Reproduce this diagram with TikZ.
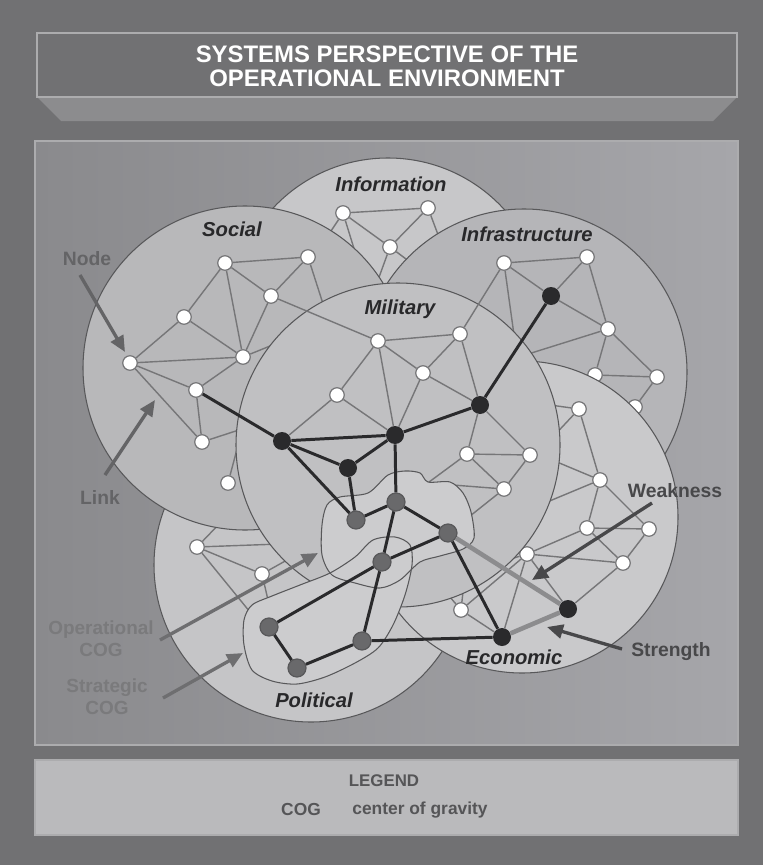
\documentclass[tikz,border=0pt]{standalone}
\usepackage{fontspec}
\setmainfont{Liberation Sans}
\usetikzlibrary{arrows.meta}

\definecolor{bgdark}{RGB}{113,113,115}
\definecolor{trapfill}{RGB}{140,140,142}
\definecolor{frameline}{RGB}{172,172,174}
\definecolor{paneldark}{RGB}{138,138,141}
\definecolor{panellight}{RGB}{166,166,170}
\definecolor{legendfill}{RGB}{186,186,188}
\definecolor{infofill}{RGB}{199,199,201}
\definecolor{socialfill}{RGB}{184,184,186}
\definecolor{infrafill}{RGB}{181,181,184}
\definecolor{polfill}{RGB}{197,197,199}
\definecolor{econfill}{RGB}{201,201,203}
\definecolor{milfill}{RGB}{192,192,194}
\definecolor{blobfill}{RGB}{204,204,206}
\definecolor{rimgray}{RGB}{88,88,90}
\definecolor{linkgray}{RGB}{118,118,120}
\definecolor{nodeblack}{RGB}{42,42,44}
\definecolor{cognode}{RGB}{105,105,107}
\definecolor{lightlinkgray}{RGB}{140,140,142}
\definecolor{labeldark}{RGB}{40,40,42}
\definecolor{notegray}{RGB}{100,100,102}
\definecolor{coggray}{RGB}{122,122,124}
\definecolor{weakgray}{RGB}{72,72,74}
\definecolor{legendtext}{RGB}{85,85,87}

\begin{document}
\begin{tikzpicture}[x=0.02cm, y=-0.02cm,
    sphere/.style={draw=rimgray, line width=0.6pt},
    wnode/.style={circle, draw=linkgray, fill=white, line width=0.7pt, inner sep=0pt, minimum size=0.29cm},
    bnode/.style={circle, fill=nodeblack, inner sep=0pt, minimum size=0.36cm},
    gnode/.style={circle, draw=rimgray, fill=cognode, line width=0.7pt, inner sep=0pt, minimum size=0.36cm},
    graylink/.style={draw=linkgray, line width=0.8pt},
    blacklink/.style={draw=nodeblack, line width=1.7pt},
    lightlink/.style={draw=lightlinkgray, line width=2.6pt},
    blob/.style={draw=rimgray, fill=blobfill, line width=0.6pt},
    dlabel/.style={font=\fontsize{11.5}{12}\selectfont\bfseries\itshape, text=labeldark, inner sep=0pt},
    note/.style={font=\fontsize{11}{12.5}\selectfont\bfseries, align=center, inner sep=0pt},
    pointer/.style={line width=1.9pt, -{Triangle[length=0.32cm,width=0.28cm]}}
]
\fill[bgdark] (0,0) rectangle (763,865);
\useasboundingbox (0,0) rectangle (763,865);

% title
\fill[trapfill] (37,97) -- (737,97) -- (713,121) -- (61,121) -- cycle;
\draw[frameline, fill=bgdark, line width=0.6pt] (37,33) rectangle (737,97);
\node[text=white, font=\fontsize{13.6}{13.6}\selectfont\bfseries, align=center, inner sep=0pt] (title) at (387,66) {SYSTEMS PERSPECTIVE OF THE\\OPERATIONAL ENVIRONMENT};

% panels
\draw[frameline, line width=0.6pt, left color=paneldark, right color=panellight] (35,141) rectangle (738,745);
\draw[frameline, line width=0.6pt, fill=legendfill] (35,760) rectangle (738,835);

% Information
\filldraw[sphere, fill=infofill] (388,315) circle[radius=157];
\node[wnode] (i1) at (343,213) {};
\node[wnode] (i2) at (390,247) {};
\node[wnode] (i3) at (428,208) {};
\coordinate (i1a) at (325,240);
\coordinate (i1b) at (356,255);
\coordinate (i2a) at (378,280);
\coordinate (i2b) at (410,262);
\coordinate (i3a) at (440,240);
\draw[graylink] (i1) -- (i3) (i1) -- (i2) (i2) -- (i3) (i1) -- (i1a) (i1) -- (i1b)
    (i2) -- (i2a) (i2) -- (i2b) (i3) -- (i3a);

% Political
\filldraw[sphere, fill=polfill] (311,565) circle[radius=157];
\node[wnode] (p1) at (197,547) {};
\node[wnode] (p2) at (262,574) {};
\coordinate (p1a) at (223,520);
\coordinate (p1b) at (280,544);
\coordinate (p1c) at (250,612);
\coordinate (p2a) at (287,560);
\coordinate (p2b) at (268,600);
\draw[graylink] (p1) -- (p2) (p1) -- (p1a) (p1) -- (p1b) (p1) -- (p1c) (p2) -- (p2a) (p2) -- (p2b);

% Social
\filldraw[sphere, fill=socialfill] (245,368) circle[radius=162];
\node[wnode] (s1) at (225,263) {};
\node[wnode] (s2) at (308,257) {};
\node[wnode] (s3) at (271,296) {};
\node[wnode] (s4) at (184,317) {};
\node[wnode] (s5) at (130,363) {};
\node[wnode] (s6) at (243,357) {};
\node[wnode] (s7) at (196,390) {};
\node[wnode] (s8) at (202,442) {};
\node[wnode] (s9) at (228,483) {};
\coordinate (s2a) at (325,310);
\coordinate (s6a) at (275,344);
\coordinate (s8a) at (245,428);
\coordinate (s9a) at (240,438);
\draw[graylink] (s1) -- (s2) (s1) -- (s3) (s1) -- (s4) (s1) -- (s6) (s2) -- (s3) (s2) -- (s2a)
    (s3) -- (s6) (s4) -- (s5) (s4) -- (s6) (s5) -- (s6) (s5) -- (s7) (s5) -- (s8)
    (s6) -- (s7) (s6) -- (s6a) (s7) -- (s8) (s8) -- (s8a) (s9) -- (s9a);

% Infrastructure
\filldraw[sphere, fill=infrafill] (524,372) circle[radius=163];
\node[wnode] (f1) at (504,263) {};
\node[wnode] (f2) at (587,257) {};
\node[bnode] (f3) at (551,296) {};
\node[wnode] (f4) at (608,329) {};
\node[wnode] (f5) at (595,375) {};
\node[wnode] (f6) at (657,377) {};
\node[wnode] (f7) at (635,407) {};
\coordinate (f1a) at (515,342);
\coordinate (f4a) at (525,355);
\draw[graylink] (f1) -- (f2) (f1) -- (f3) (f2) -- (f3) (f3) -- (f4) (f2) -- (f4) (f4) -- (f5)
    (f4) -- (f6) (f5) -- (f6) (f6) -- (f7) (f1) -- (f1a) (f4) -- (f4a);

% Economic
\filldraw[sphere, fill=econfill] (522,517) circle[radius=156];
\node[wnode] (e1) at (579,409) {};
\node[wnode] (e2) at (600,480) {};
\node[wnode] (e3) at (587,528) {};
\node[wnode] (e4) at (649,529) {};
\node[wnode] (e5) at (527,554) {};
\node[wnode] (e6) at (623,563) {};
\node[wnode] (e7) at (461,610) {};
\node[bnode] (eb1) at (502,637) {};
\node[bnode] (eb2) at (568,609) {};
\coordinate (e1a) at (550,405);
\coordinate (e1b) at (550,440);
\coordinate (e2a) at (545,457);
\coordinate (e2b) at (540,505);
\coordinate (e5a) at (468,572);
\coordinate (e7a) at (464,583);
\coordinate (e7b) at (444,590);
\draw[graylink] (e1) -- (e2) (e2) -- (e3) (e2) -- (e4) (e3) -- (e4) (e3) -- (e5) (e3) -- (e6)
    (e4) -- (e6) (e5) -- (e6) (e5) -- (e7) (e5) -- (eb1) (e5) -- (eb2) (e6) -- (eb2)
    (e7) -- (eb1) (e1) -- (e1a) (e1) -- (e1b) (e2) -- (e2a) (e2) -- (e2b) (e5) -- (e5a)
    (e7) -- (e7a) (e7) -- (e7b);

% Military
\filldraw[sphere, fill=milfill] (398,445) circle[radius=162];
\node[wnode] (m1) at (378,341) {};
\node[wnode] (m2) at (337,395) {};
\node[wnode] (m3) at (460,334) {};
\node[wnode] (m4) at (423,373) {};
\node[wnode] (m5) at (467,454) {};
\node[wnode] (m6) at (530,455) {};
\node[wnode] (m7) at (504,489) {};
\node[bnode] (b1) at (282,441) {};
\node[bnode] (b2) at (395,435) {};
\node[bnode] (b3) at (480,405) {};
\node[bnode] (b4) at (348,468) {};
\coordinate (m5a) at (425,485);
\coordinate (m7a) at (440,484);
\coordinate (m7b) at (465,520);
\draw[graylink] (m1) -- (m3) (m1) -- (m4) (m1) -- (m2) (m1) -- (b2) (m3) -- (m4) (m3) -- (b3)
    (m4) -- (b3) (m4) -- (b2) (m2) -- (b1) (m2) -- (b2) (b3) -- (m5) (b3) -- (m6)
    (m5) -- (m6) (m5) -- (m7) (m6) -- (m7) (m5) -- (m5a) (m7) -- (m7a) (m7) -- (m7b)
    (s3) -- (m1) (f1) -- (m3);

% centres of gravity
\fill[blobfill] plot[smooth cycle] coordinates {(327,505) (340,497) (368,493) (388,475) (405,471)
    (420,473) (428,482) (450,482) (463,493) (471,512) (474,538) (463,549) (440,556) (420,562)
    (400,580) (380,588) (355,583) (332,575) (322,555) (322,525)};
\fill[blobfill] plot[smooth cycle] coordinates {(373,540) (395,537) (410,545) (412,565) (405,595)
    (393,625) (378,648) (355,663) (325,677) (297,684) (272,681) (252,670) (244,645) (244,620)
    (252,605) (272,596) (300,585) (330,573) (355,557)};
\draw[rimgray, line width=0.6pt] plot[smooth cycle] coordinates {(327,505) (340,497) (368,493)
    (388,475) (405,471) (420,473) (428,482) (450,482) (463,493) (471,512) (474,538) (463,549)
    (440,556) (420,562) (400,580) (380,588) (355,583) (332,575) (322,555) (322,525)};
\draw[rimgray, line width=0.6pt] plot[smooth cycle] coordinates {(373,540) (395,537) (410,545)
    (412,565) (405,595) (393,625) (378,648) (355,663) (325,677) (297,684) (272,681) (252,670)
    (244,645) (244,620) (252,605) (272,596) (300,585) (330,573) (355,557)};
\node[gnode] (g1) at (356,520) {};
\node[gnode] (g2) at (396,502) {};
\node[gnode] (g3) at (448,533) {};
\node[gnode] (g4) at (382,562) {};
\node[gnode] (g5) at (362,641) {};
\node[gnode] (g6) at (269,627) {};
\node[gnode] (g7) at (297,668) {};

% key links
\draw[lightlink] (g3) -- (eb2) (eb1) -- (eb2);
\draw[blacklink] (s7) -- (b1) (b1) -- (b2) (b1) -- (b4) (b2) -- (b4) (b2) -- (b3) (b3) -- (f3)
    (b1) -- (g1) (b4) -- (g1) (b2) -- (g2) (g1) -- (g2) (g2) -- (g3) (g2) -- (g4) (g3) -- (g4)
    (g3) -- (eb1) (g4) -- (g5) (g4) -- (g6) (g6) -- (g7) (g7) -- (g5) (g5) -- (eb1);

% system names
\node[dlabel] (infolbl) at (391,184) {Information};
\node[dlabel] (sociallbl) at (232,229) {Social};
\node[dlabel] (infralbl) at (527,234) {Infrastructure};
\node[dlabel] (millbl) at (400,309) {Military};
\node[dlabel] (econlbl) at (514,657) {Economic};
\node[dlabel] (pollbl) at (314,700) {Political};

% callouts
\node[note, text=notegray] (nodelbl) at (87,259) {Node};
\node[note, text=notegray] (linklbl) at (100,497) {Link};
\node[note, text=coggray, font=\fontsize{10.8}{12.5}\selectfont\bfseries] (opcog) at (101,639) {Operational\\COG};
\node[note, text=coggray, font=\fontsize{10.8}{12.5}\selectfont\bfseries] (stcog) at (107,697) {Strategic\\COG};
\node[note, text=weakgray] (weaklbl) at (675,491) {Weakness};
\node[note, text=weakgray] (stronglbl) at (671,652) {Strength};
\coordinate (nodefrom) at (80,275);
\coordinate (nodeto) at (125,352);
\coordinate (linkfrom) at (105,475);
\coordinate (linkto) at (155,400);
\coordinate (opfrom) at (160,640);
\coordinate (opto) at (318,553);
\coordinate (stfrom) at (163,698);
\coordinate (stto) at (243,653);
\coordinate (weakfrom) at (652,503);
\coordinate (weakto) at (532,580);
\coordinate (strongfrom) at (622,649);
\coordinate (strongto) at (547,627);
\draw[pointer, notegray] (nodefrom) -- (nodeto);
\draw[pointer, notegray] (linkfrom) -- (linkto);
\draw[pointer, coggray!90!black] (opfrom) -- (opto);
\draw[pointer, coggray!90!black] (stfrom) -- (stto);
\draw[pointer, weakgray] (weakfrom) -- (weakto);
\draw[pointer, weakgray] (strongfrom) -- (strongto);

% legend
\node[text=legendtext, font=\fontsize{9.6}{10}\selectfont\bfseries, inner sep=0pt] (legendhead) at (384,781) {LEGEND};
\node[text=legendtext, font=\fontsize{9.9}{10}\selectfont\bfseries, inner sep=0pt] (cogabbr) at (301,810) {COG};
\node[text=legendtext, font=\fontsize{9.9}{10}\selectfont\bfseries, inner sep=0pt] (cogtext) at (420,810) {center of gravity};
\end{tikzpicture}
\end{document}
